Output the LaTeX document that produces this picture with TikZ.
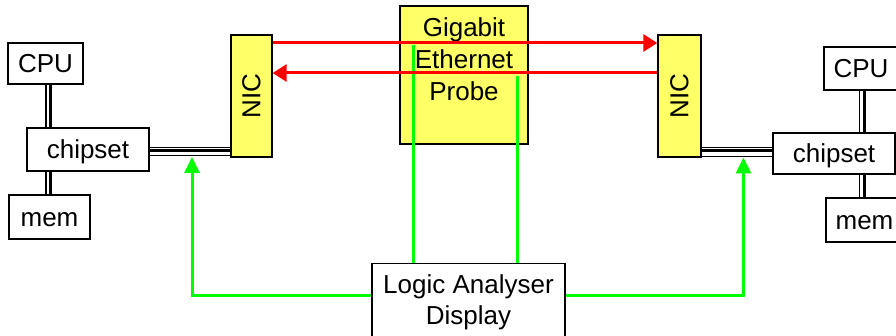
\documentclass[tikz,border=0pt]{standalone}
\usepackage{fontspec}
\setmainfont{Liberation Sans}
\usetikzlibrary{arrows.meta}
\definecolor{probeyellow}{RGB}{255,255,102}
\definecolor{linkred}{RGB}{255,0,0}
\definecolor{wiregreen}{RGB}{0,255,0}
\begin{document}
\begin{tikzpicture}[x=1pt,y=-1pt,
  every node/.style={font=\fontsize{26pt}{31.5pt}\selectfont},
  unit/.style={draw=black,line width=1.3pt,fill=white,inner sep=0pt,
    text height=23.6pt,text depth=5pt},
  nicbox/.style={draw=black,line width=1.3pt,fill=probeyellow,inner sep=0pt,
    minimum width=41pt,minimum height=122pt},
  busthin/.style={line width=1.3pt},
  busthick/.style={line width=3pt},
  redlink/.style={draw=linkred,line width=3pt,-{Triangle[length=14pt,width=17pt]}},
  probewire/.style={draw=wiregreen,line width=3pt},
  tapwire/.style={probewire,-{Triangle[length=16pt,width=15pt]}}]
\useasboundingbox (0,0) rectangle (896,336);

% left host
\node[unit,minimum width=75pt,minimum height=41pt] (cpuL) at (45.5,63.5) {CPU};
\node[unit,minimum width=122pt,minimum height=43pt] (chipL) at (88,149.5) {chipset};
\node[unit,minimum width=81pt,minimum height=44pt] (memL) at (49.5,217) {mem};
\node[nicbox] (nicL) at (251.5,96) {\rotatebox{90}{NIC}};

% right host
\node[unit,minimum width=74pt,minimum height=43pt] (cpuR) at (861,68.5) {CPU};
\node[unit,minimum width=122pt,minimum height=41pt] (chipR) at (834,153.5) {chipset};
\node[unit,minimum width=77pt,minimum height=44pt] (memR) at (864.5,220) {mem};
\node[nicbox,minimum width=43pt] (nicR) at (679.5,96) {\rotatebox{90}{NIC}};

% probe and analyser
\node[draw=black,line width=1.3pt,fill=probeyellow,minimum width=128pt,minimum height=138pt,inner sep=0pt] (probe) at (464,75) {};
\node[anchor=north,inner sep=0pt,align=center,font=\fontsize{26pt}{32pt}\selectfont] (probetxt) at ([yshift=-12.5pt]probe.north) {Gigabit\\Ethernet\\Probe};
\node[draw=black,line width=1.3pt,fill=white,minimum width=193pt,minimum height=78pt,inner sep=0pt,align=center] (logic) at (468.5,302.5) {Logic Analyser\\Display};

% memory / processor buses (left)
\draw[busthin] ([xshift=0.5pt]cpuL.south) -- ([xshift=0.5pt]cpuL.south |- chipL.north);
\draw[busthick] ([xshift=5.3pt]cpuL.south) -- ([xshift=5.3pt]cpuL.south |- chipL.north);
\draw[busthin] ([xshift=0.5pt]cpuL.south |- chipL.south) -- ([xshift=0.5pt]cpuL.south |- memL.north);
\draw[busthick] ([xshift=5.3pt]cpuL.south |- chipL.south) -- ([xshift=5.3pt]cpuL.south |- memL.north);

% memory / processor buses (right)
\draw[busthin] ([xshift=-1.5pt]cpuR.south) -- ([xshift=-1.5pt]cpuR.south |- chipR.north);
\draw[busthick] ([xshift=3.5pt]cpuR.south) -- ([xshift=3.5pt]cpuR.south |- chipR.north);
\draw[busthin] ([xshift=-1.5pt]cpuR.south |- chipR.south) -- ([xshift=-1.5pt]cpuR.south |- memR.north);
\draw[busthick] ([xshift=3.5pt]cpuR.south |- chipR.south) -- ([xshift=3.5pt]cpuR.south |- memR.north);

% I/O bus chipset -- NIC
\coordinate (lb1) at (0,147.2);
\coordinate (lb2) at (0,150.2);
\coordinate (lb3) at (0,155.3);
\draw[busthin] (chipL.east |- lb1) -- (nicL.west |- lb1);
\draw[busthick] (chipL.east |- lb2) -- (nicL.west |- lb2);
\draw[busthin] (chipL.east |- lb3) -- (nicL.west |- lb3);
\coordinate (rb1) at (0,147.5);
\coordinate (rb2) at (0,151);
\coordinate (rb3) at (657,156.7);
\draw[busthin] (nicR.east |- rb1) -- (chipR.west |- rb1);
\draw[busthick] (nicR.east |- rb2) -- (chipR.west |- rb2);
\draw[busthin] (rb3) -- (chipR.west |- rb3);

% analyser probes
\coordinate (pinA) at (413,45);
\coordinate (pinB) at (517,76);
\draw[probewire] (pinA |- logic.north) -- (pinA);
\draw[probewire] (pinB |- logic.north) -- (pinB);
\coordinate (tapL) at (192,157);
\coordinate (tapR) at (743.5,157.5);
\draw[tapwire] ([yshift=6.5pt]logic.west) -| (tapL);
\draw[tapwire] ([yshift=6.5pt]logic.east) -| (tapR);

% Ethernet links
\coordinate (rA) at (0,43);
\coordinate (rB) at (0,73);
\draw[redlink] (nicL.east |- rA) -- (nicR.west |- rA);
\draw[redlink] (nicR.west |- rB) -- (nicL.east |- rB);
\end{tikzpicture}
\end{document}
